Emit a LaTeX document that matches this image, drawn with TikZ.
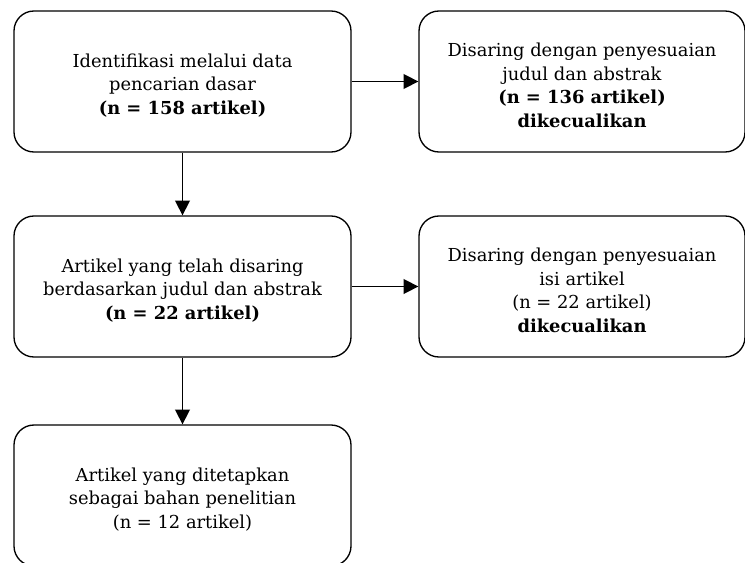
\documentclass[tikz,border=0pt]{standalone}
\usepackage{fontspec}
\setmainfont{DejaVu Serif}
\usetikzlibrary{arrows.meta}
\newcommand\topstrut{\rule{0pt}{16pt}}
\begin{document}
\begin{tikzpicture}[x=0.75pt,y=-0.75pt,
  box/.style={draw=black, line width=1pt, rounded corners=15pt, align=center,
    font=\fontsize{13.4}{17.6}\selectfont, inner sep=0pt},
  arr/.style={line width=1.2pt, -{Triangle[length=11pt,width=11pt]}}]
\useasboundingbox (0,0) rectangle (745,563);
\node[box, minimum width=337*0.75pt, minimum height=141*0.75pt] (b1) at (182.5,81.5)
  {\topstrut Identifikasi melalui data\\pencarian dasar\\\textbf{(n = 158 artikel)}};
\node[box, minimum width=326*0.75pt, minimum height=141*0.75pt] (b2) at (582,81.5)
  {\topstrut Disaring dengan penyesuaian\\judul dan abstrak\\\textbf{(n = 136 artikel)}\\\textbf{dikecualikan}};
\node[box, minimum width=337*0.75pt, minimum height=141*0.75pt] (b3) at (182.5,286.5)
  {\topstrut Artikel yang telah disaring\\berdasarkan judul dan abstrak\\\textbf{(n = 22 artikel)}};
\node[box, minimum width=326*0.75pt, minimum height=141*0.75pt] (b4) at (582,286.5)
  {\topstrut Disaring dengan penyesuaian\\isi artikel\\(n = 22 artikel)\\\textbf{dikecualikan}};
\node[box, minimum width=337*0.75pt, minimum height=141*0.75pt] (b5) at (182.5,495.5)
  {\topstrut Artikel yang ditetapkan\\sebagai bahan penelitian\\(n = 12 artikel)};
\draw[arr] (b1) -- (b2);
\draw[arr] (b3) -- (b4);
\draw[arr] (b1) -- (b3);
\draw[arr] (b3) -- (b5);
\end{tikzpicture}
\end{document}
